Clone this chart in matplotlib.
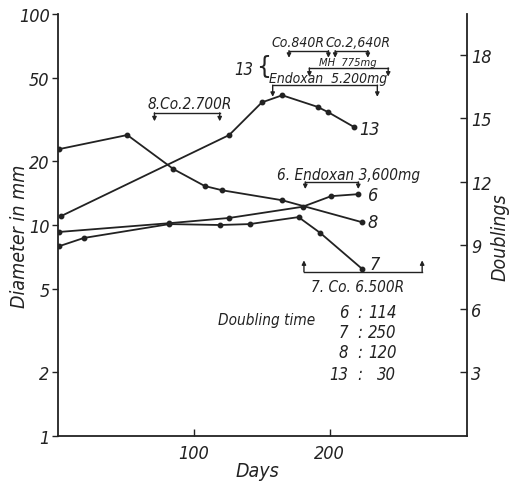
import numpy as np
import matplotlib
matplotlib.use("Agg")
import matplotlib.pyplot as plt

# ---- data ----
days_6 = [1, 82, 126, 180, 201, 221]
diam_6 = [9.27, 10.2, 10.8, 12.2, 13.7, 14.0]

days_7 = [1, 19, 82, 119, 141, 177, 193, 224]
diam_7 = [7.94, 8.68, 10.1, 10.0, 10.1, 10.9, 9.17, 6.18]

days_8 = [1, 51, 85, 108, 121, 165, 224]
diam_8 = [22.9, 26.7, 18.4, 15.3, 14.6, 13.1, 10.3]

days_13 = [2, 126, 150, 165, 191, 199, 218]
diam_13 = [11.0, 26.7, 38.1, 41.2, 36.3, 34.2, 29.1]

y_ticks = [1, 2, 5, 10, 20, 50, 100]
x_ticks = [100, 200]
doubling_ticks = [3, 6, 9, 12, 15, 18]

dt_ids = ["6", "7", "8", "13"]
dt_vals = ["114", "250", "120", "30"]

INK = "#222222"
plt.rcParams["font.family"] = ["DejaVu Sans"]
plt.rcParams["font.style"] = "italic"
plt.rcParams["font.stretch"] = "condensed"

fig = plt.figure(figsize=(5.2, 4.85), dpi=100)
ax = fig.add_axes([58 / 520, 1 - 437 / 485, 409 / 520, 422 / 485])
ax.set_yscale("log")
ax.set_ylim(1, 100)
ax.set_xlim(0, 301)

for d, v in [(days_6, diam_6), (days_7, diam_7), (days_8, diam_8), (days_13, diam_13)]:
    ax.plot(d, v, color=INK, lw=1.3, marker="o", ms=3.2)

ax.spines["top"].set_visible(False)
for s in ["left", "bottom", "right"]:
    ax.spines[s].set_color(INK)
    ax.spines[s].set_linewidth(1.3)

ax.set_yticks(y_ticks)
ax.set_yticklabels([str(t) for t in y_ticks])
ax.yaxis.set_minor_locator(matplotlib.ticker.NullLocator())
ax.tick_params(axis="y", direction="out", length=4, width=1, colors=INK,
               labelsize=13, pad=2)
ax.set_xticks(x_ticks)
ax.set_xticklabels([str(t) for t in x_ticks])
ax.tick_params(axis="x", direction="in", length=5, width=1, colors=INK,
               labelsize=13, pad=6)

ax2 = ax.twinx()
ax2.set_ylim(0, 3 * np.log2(100))
ax2.set_yticks(doubling_ticks)
ax2.set_yticklabels([str(t) for t in doubling_ticks])
ax2.tick_params(axis="y", direction="in", length=5, width=1, colors=INK,
                labelsize=13, pad=3)
for s in ax2.spines.values():
    s.set_visible(False)

fig.text(20 / 520, 1 - 236 / 485, "Diameter in mm", rotation=90, ha="center",
         va="center", fontsize=14, color=INK)
fig.text(500 / 520, 1 - 237 / 485, "Doublings", rotation=90, ha="center",
         va="center", fontsize=14, color=INK)
fig.text(257 / 520, 1 - 472 / 485, "Days", ha="center", va="center",
         fontsize=14, color=INK)


def bracket(x0, x1, y, ytip):
    ax.plot([x0, x1], [y, y], color=INK, lw=1.0)
    for x in (x0, x1):
        ax.annotate("", xy=(x, ytip), xytext=(x, y),
                    arrowprops=dict(arrowstyle="-|>", color=INK, lw=1.0,
                                    mutation_scale=6, shrinkA=0, shrinkB=0))


fs = 10
# 8. Co
ax.text(97, 37.5, "8.Co.2.700R", ha="center", va="center", fontsize=fs + 1, color=INK)
bracket(71, 119, 34.0, 31.0)
# 13 treatments
ax.text(143.5, 55, "13", ha="right", va="center", fontsize=12, color=INK)
ax.text(145.5, 57.0, "{", ha="left", va="center", fontsize=17, color=INK,
        family="DejaVu Sans", style="normal", stretch="normal")
ax.text(176.8, 74, "Co.840R", ha="center", va="center", fontsize=fs, color=INK)
ax.text(221, 74, "Co.2,640R", ha="center", va="center", fontsize=fs, color=INK)
bracket(170, 199, 67.0, 62.0)
bracket(204, 228, 67.0, 62.0)
ax.text(213, 59.5, "MH  775mg", ha="center", va="center", fontsize=8, color=INK)
bracket(185, 243, 55.5, 50.5)
ax.text(198.5, 50.0, "Endoxan  5.200mg", ha="center", va="center", fontsize=fs, color=INK)
bracket(158, 235, 46.0, 40.5)
# 6. Endoxan
ax.text(214, 17.4, "6. Endoxan 3,600mg", ha="center", va="center", fontsize=fs + 1, color=INK)
bracket(182, 221, 16.0, 14.8)
# 7. Co
ax.text(220.6, 5.1, "7. Co. 6.500R", ha="center", va="center", fontsize=fs + 1, color=INK)
bracket(181, 268, 6.0, 6.8)

# series labels
ax.text(222, 28.5, "13", ha="left", va="center", fontsize=13, color=INK)
ax.text(228, 13.9, "6", ha="left", va="center", fontsize=13, color=INK)
ax.text(228, 10.3, "8", ha="left", va="center", fontsize=13, color=INK)
ax.text(229, 6.55, "7", ha="left", va="center", fontsize=13, color=INK)

# doubling time table
ax.text(117.6, 3.58, "Doubling time", ha="left", va="center", fontsize=11, color=INK)
row_y = [3.87, 3.11, 2.50, 1.97]
for i, v, yy in zip(dt_ids, dt_vals, row_y):
    ax.text(213.5, yy, i, ha="right", va="center", fontsize=12, color=INK)
    ax.text(222, yy, ":", ha="center", va="center", fontsize=12, color=INK)
    ax.text(249, yy, v, ha="right", va="center", fontsize=12, color=INK)

fig.savefig("out.png", dpi=100)
